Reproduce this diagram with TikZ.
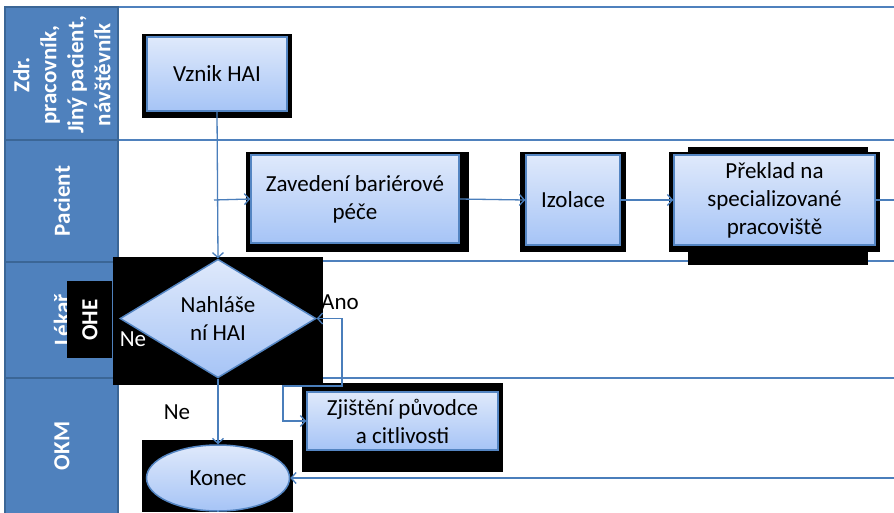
\documentclass[tikz,border=0pt]{standalone}
\usepackage{fontspec}
\setmainfont{Carlito}
\usetikzlibrary{arrows.meta,shapes.geometric}
\definecolor{lanefill}{HTML}{4F81BD}
\definecolor{laneedge}{HTML}{3B6696}
\definecolor{laneline}{HTML}{4F81BD}
\definecolor{flow}{HTML}{4A7EBB}
\definecolor{boxtop}{HTML}{DFE9FB}
\definecolor{boxbot}{HTML}{A6C4F6}
\definecolor{boxedge}{HTML}{5485C2}

\tikzset{
  big/.style={font=\fontsize{23}{28}\selectfont},
  hdr/.style={rotate=90, text=white, font=\fontsize{23}{27}\selectfont\bfseries, align=center, inner sep=0pt},
  lanehead/.style={fill=lanefill, draw=laneedge, line width=2pt},
  laneline/.style={draw=laneline, line width=2.2pt},
  shadowbox/.style={fill=black},
  proc/.style={rectangle, draw=boxedge, line width=1.5pt, top color=boxtop, bottom color=boxbot, big, align=center, inner sep=0pt},
  decide/.style={diamond, draw=boxedge, line width=1.5pt, top color=boxtop, bottom color=boxbot, big, align=center, inner sep=0pt},
  terminal/.style={ellipse, draw=boxedge, line width=1.5pt, top color=boxtop, bottom color=boxbot, big, align=center, inner sep=0pt},
  flowline/.style={draw=flow, line width=1.3pt},
  tip/.tip={Straight Barb[length=5pt,width=11pt,line width=1.3pt]},
  arr/.style={flowline, -tip},
  lbl/.style={big, inner sep=0pt},
}

\begin{document}
\begin{tikzpicture}[x=1pt,y=-1pt]
\useasboundingbox (0,0) rectangle (894,512);
\fill[white] (0,0) rectangle (894,512);

% lane separators
\foreach \yy in {7,140,261,378}
  \draw[laneline] (118,\yy) -- (894,\yy);

% lane headers
\filldraw[lanehead] (5,7) rectangle (118,140);
\filldraw[lanehead] (5,140) rectangle (118,262);
\filldraw[lanehead] (5,262) rectangle (118,378);
\filldraw[lanehead] (5,378) rectangle (118,516);
\node[hdr] (h1) at (62,75) {Zdr.\\pracovník,\\Jiný pacient,\\návštěvník};
\node[hdr] (h2) at (62,201) {Pacient};
\node[hdr] (h3) at (62,320) {Lékař};
\node[hdr] (h4) at (62,446) {OKM};

% dark backing plates behind the shapes
\fill[shadowbox] (142,34) rectangle (292,118);
\fill[shadowbox] (246,152) rectangle (469,252);
\fill[shadowbox] (520,152) rectangle (626,252);
\fill[shadowbox] (688,147) rectangle (868,265);
\fill[shadowbox] (669,152) rectangle (880,252);
\fill[shadowbox] (113,257) rectangle (323,385);
\fill[shadowbox] (302,383) rectangle (503,472);
\fill[shadowbox] (142,440) rectangle (293,512);

% OHE tag
\node[fill=black, minimum width=45pt, minimum height=77pt, inner sep=0pt] (ohebox) at (89.5,319.5) {};
\node[hdr] (ohe) at (90,320) {OHE};

% process shapes
\node[proc, minimum width=140pt, minimum height=74pt] (vznik) at (217,74) {Vznik HAI};
\node[proc, minimum width=208pt, minimum height=88pt] (zav) at (355,199) {Zavedení bariérové\\péče};
\node[proc, minimum width=94pt, minimum height=90pt] (izo) at (573,200) {Izolace};
\node[proc, minimum width=201pt, minimum height=90pt] (prek) at (774.5,200) {Překlad na\\specializované\\pracoviště};
\node[decide, minimum width=196pt, minimum height=117pt] (dia) at (218,318.5) {Nahláše\\ní HAI};
\node[proc, minimum width=191pt, minimum height=58pt] (zji) at (402.5,421) {Zjištění původce\\a citlivosti};
\node[terminal, minimum width=143pt, minimum height=66pt] (konec) at (218,478) {Konec};

% connector points
\coordinate (branch) at (214,200);
\coordinate (exitright) at (894,200);
\coordinate (enterright) at (894,478);
\coordinate (loopA) at (342,386);
\coordinate (loopB) at (283,386);

% connectors
\draw[arr] (vznik.south) -- (dia.north);
\draw[arr] (branch) -- (zav.west);
\draw[arr] (zav.east) -- (izo.west);
\draw[arr] (izo.east) -- (prek.west);
\draw[flowline] (prek.east) -- (exitright);
\draw[arr] (dia.south) -- (konec.north);
\draw[flowline, tip-tip] (dia.east) -| (loopA) -- (loopB) |- (zji.west);
\draw[arr] (enterright) -- (konec.east);

% branch labels
\node[lbl] (ano) at (340,302) {Ano};
\node[lbl, text=white] (ne1) at (133,339) {Ne};
\node[lbl] (ne2) at (177,412) {Ne};
\end{tikzpicture}
\end{document}
